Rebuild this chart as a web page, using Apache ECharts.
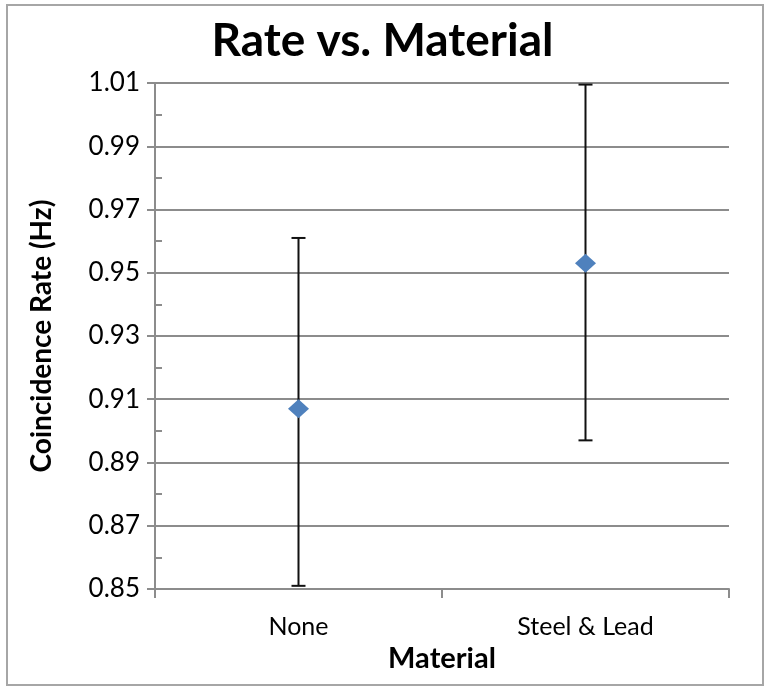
<!DOCTYPE html>
<html>
<head>
<meta charset="utf-8">
<script src="https://cdn.jsdelivr.net/npm/echarts@6/dist/echarts.min.js"></script>
<style>
  html, body { margin: 0; padding: 0; background: #fff; }
  #chart { width: 765px; height: 686px; }
</style>
</head>
<body>
<div id="chart"></div>
<script>
// data
const materials = ['None', 'Steel & Lead']
const rates = [0.907, 0.953]
const errLow = [0.851, 0.897]
const errHigh = [0.961, 1.0095]

const axisGray = '#8c8c8c'
const font = 'Lato, "Open Sans", sans-serif'

const myChart = echarts.init(document.getElementById('chart'))

// error bar rows: [category index, low, high]
const errData = materials.map((m, i) => [i, errLow[i], errHigh[i]])

const renderErrorBar = (params, api) => {
  const low = api.coord([api.value(0), api.value(1)])
  const high = api.coord([api.value(0), api.value(2)])
  const half = 7
  const style = { stroke: '#111', lineWidth: 2 }
  return {
    type: 'group',
    children: [
      { type: 'line', shape: { x1: low[0], y1: low[1], x2: high[0], y2: high[1] }, style },
      { type: 'line', shape: { x1: low[0] - half, y1: low[1], x2: low[0] + half, y2: low[1] }, style },
      { type: 'line', shape: { x1: high[0] - half, y1: high[1], x2: high[0] + half, y2: high[1] }, style }
    ]
  }
}

const myOption = {
  backgroundColor: '#fff',
  animation: false,

  title: {
    text: 'Rate vs. Material',
    left: 'center',
    top: 13,
    textStyle: {
      color: '#000',
      fontSize: 46,
      fontWeight: 'bold',
      fontFamily: font
    }
  },

  // outer chart border
  graphic: [{
    type: 'rect',
    shape: { x: 7, y: 5, width: 756, height: 680 },
    style: { fill: 'none', stroke: '#a6a6a6', lineWidth: 2 },
    silent: true
  }],

  grid: {
    left: 155,
    right: 36,
    top: 83,
    bottom: 97
  },

  xAxis: {
    type: 'category',
    data: materials,
    boundaryGap: true,
    name: 'Material',
    nameLocation: 'middle',
    nameGap: 55,
    nameTextStyle: { color: '#000', fontSize: 29, fontWeight: 'bold', fontFamily: font },
    axisLine: { lineStyle: { color: axisGray, width: 2 } },
    axisTick: { show: true, length: 9, lineStyle: { color: axisGray, width: 2 } },
    axisLabel: { color: '#000', fontSize: 25, fontFamily: font, margin: 25 },
    splitLine: { show: false }
  },

  yAxis: [
    {
      type: 'value',
      min: 0.85,
      max: 1.01,
      interval: 0.02,
      name: 'Coincidence Rate (Hz)',
      nameLocation: 'middle',
      nameGap: 99,
      nameTextStyle: { color: '#000', fontSize: 28, fontWeight: 'bold', fontFamily: font },
      axisLine: { show: true, lineStyle: { color: axisGray, width: 2 } },
      axisTick: { show: true, length: 8, lineStyle: { color: axisGray, width: 2 } },
      axisLabel: {
        color: '#000',
        fontSize: 26,
        fontFamily: font,
        margin: 15,
        formatter: (v) => v.toFixed(2)
      },
      splitLine: { show: true, lineStyle: { color: axisGray, width: 2 } }
    },
    {
      // minor ticks drawn inside, like the original
      type: 'value',
      position: 'left',
      min: 0.85,
      max: 1.01,
      interval: 0.01,
      axisLine: { show: false },
      axisTick: { show: true, inside: true, length: 7, lineStyle: { color: axisGray, width: 2 } },
      axisLabel: { show: false },
      splitLine: { show: false }
    }
  ],

  series: [
    {
      name: 'error',
      type: 'custom',
      renderItem: renderErrorBar,
      data: errData,
      encode: { x: 0, y: [1, 2] },
      z: 2
    },
    {
      name: 'Rate',
      type: 'scatter',
      symbol: 'diamond',
      symbolSize: [21, 19],
      itemStyle: { color: '#4f81bd', opacity: 1 },
      data: rates,
      z: 3
    }
  ]
}
myChart.setOption(myOption)
</script>
</body>
</html>
